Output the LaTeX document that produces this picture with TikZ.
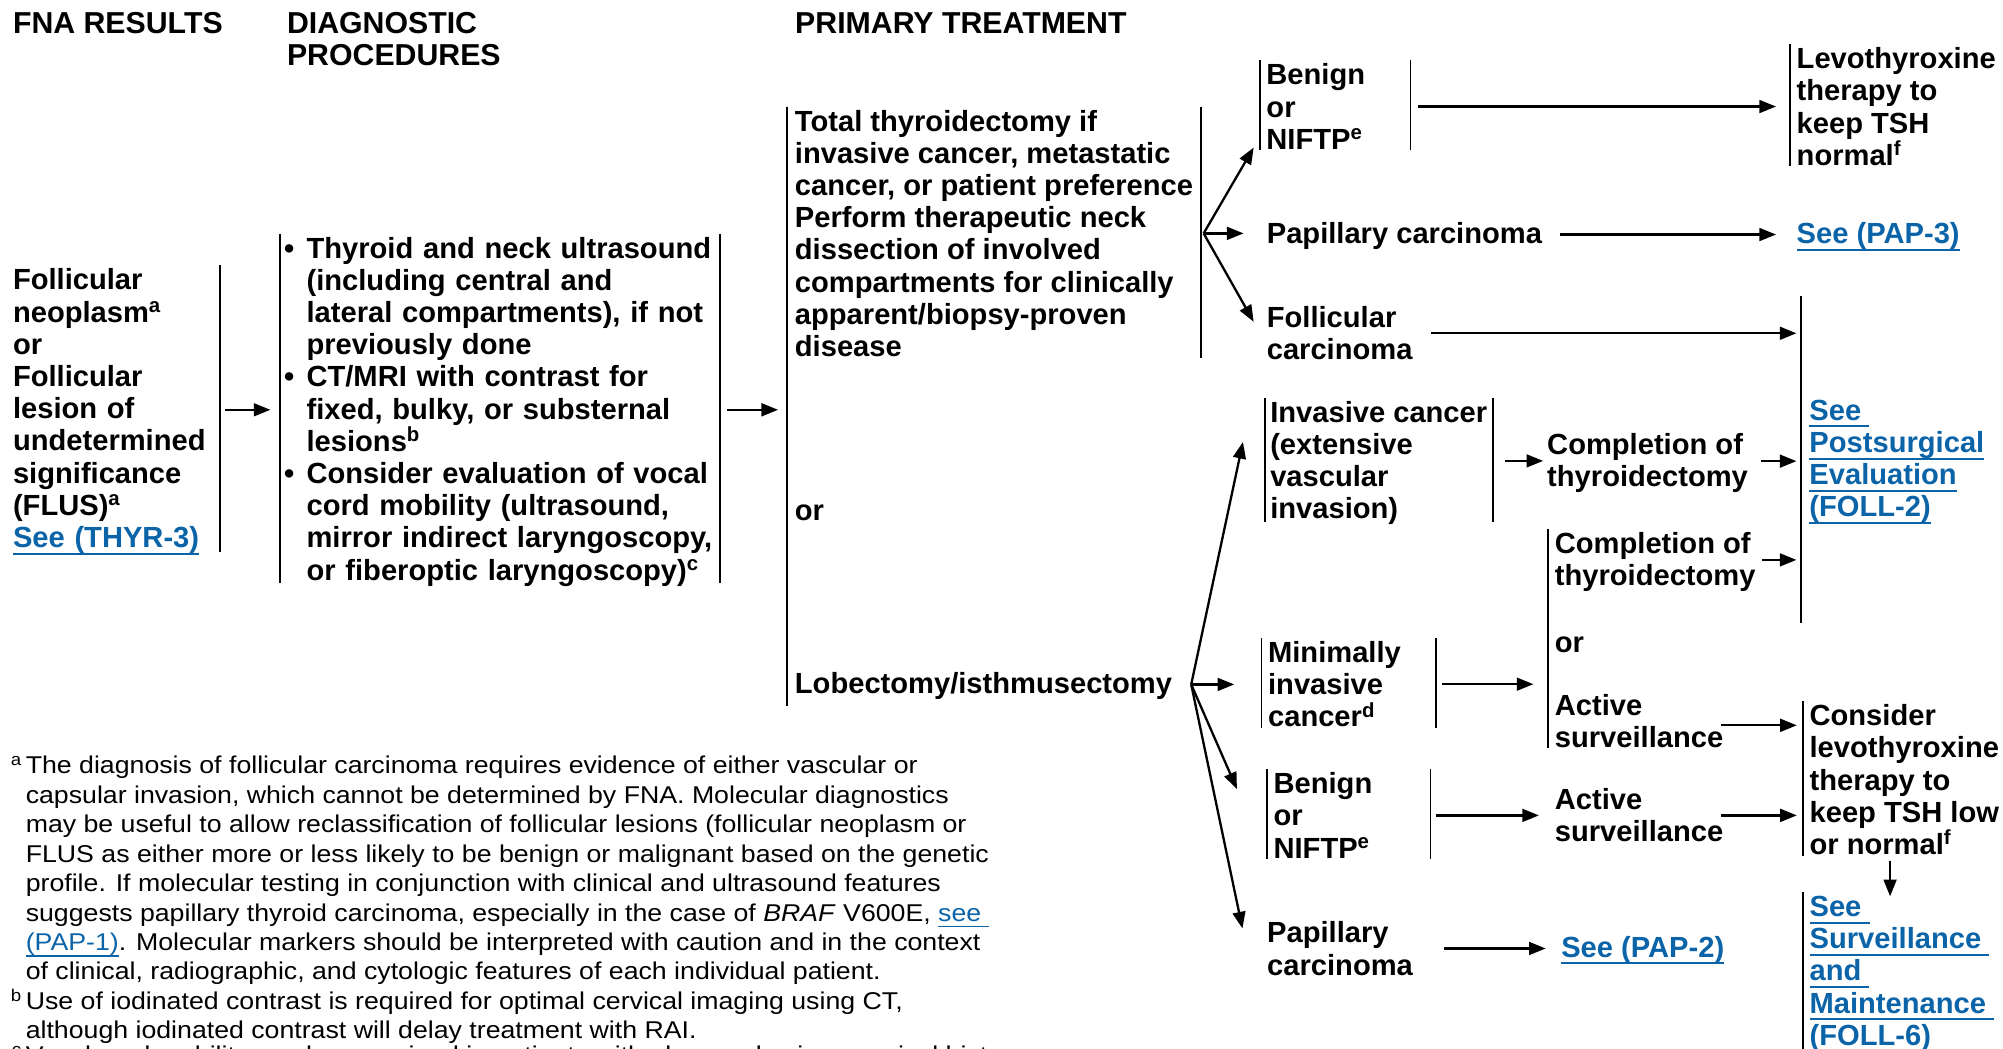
\documentclass[tikz,border=0pt]{standalone}
\usepackage{fontspec}
\setmainfont{Liberation Sans}
\newfontfamily\notefont[FakeStretch=1.1]{Liberation Sans}
\usepackage{xcolor}
\usetikzlibrary{arrows.meta,calc}
\definecolor{linkblue}{HTML}{0B64A8}
\newsavebox\lnkbox
\newcommand\lnk[1]{\leavevmode{\color{linkblue}\sbox\lnkbox{#1}\rlap{\rule[-0.25em]{\wd\lnkbox}{0.065em}}\usebox\lnkbox}}
\newcommand\bul{\makebox[17.5pt][l]{\textbullet}}
\newcommand\ind{\hspace*{17.5pt}}
\newcommand\tstrut{\rule[-3.1pt]{0pt}{19.5pt}}

\begin{document}
\begin{tikzpicture}[x=1pt,y=-1pt,
    head/.style={font=\bfseries\fontsize{23.7}{25.2}\selectfont,align=left,anchor=west,inner xsep=5pt,inner ysep=0pt},
    txt/.style={head,font=\bfseries\fontsize{22.8}{25.2}\selectfont,yshift=-2.5pt},
    note/.style={font=\notefont\fontsize{19}{23.05}\selectfont,align=left,anchor=north west,inner sep=0pt},
    arr/.style={line width=1.8pt,-{Triangle[length=13pt,width=10pt]},transform canvas={yshift=1.5pt}},
    bar/.style={line width=1.4pt,transform canvas={yshift=2.5pt}}]
  \useasboundingbox (0,0) rectangle (1568,821);

  \node[head] (hfna) at (5,19.6) {\tstrut FNA RESULTS\tstrut};
  \node[head] (hdiag) at (219.5,32.2) {\tstrut DIAGNOSTIC\\PROCEDURES\tstrut};
  \node[head] (hprim) at (617.3,19.6) {\tstrut PRIMARY TREATMENT\tstrut};

  \node[txt,text width=156.7pt] (fna) at (5,319.8) {\tstrut Follicular\\neoplasm\textsuperscript{a}\\or\\Follicular\\lesion of\\undetermined\\significance\\(FLUS)\textsuperscript{a}\\\lnk{See (THYR-3)}\tstrut};
  \node[txt,inner xsep=3pt,text width=338pt] (diag) at (219.3,319.8) {\tstrut\bul Thyroid and neck ultrasound\\
    \ind(including central and\\
    \ind lateral compartments), if not\\
    \ind previously done\\
    \bul CT/MRI with contrast for\\
    \ind fixed, bulky, or substernal\\
    \ind lesions\textsuperscript{b}\\
    \bul Consider evaluation of vocal\\
    \ind cord mobility (ultrasound,\\
    \ind mirror indirect laryngoscopy,\\
    \ind or fiberoptic laryngoscopy)\textsuperscript{c}\tstrut};
  \node[txt,inner xsep=6pt] (total) at (616.1,181.7) {\tstrut Total thyroidectomy if\\invasive cancer, metastatic\\cancer, or patient preference\\Perform therapeutic neck\\dissection of involved\\compartments for clinically\\apparent/biopsy-proven\\disease\tstrut};
  \node[txt,inner xsep=6pt] (orA) at (616.1,398.3) {\tstrut or\tstrut};
  \node[txt,inner xsep=6pt] (lob) at (616.1,534.8) {\tstrut Lobectomy/isthmusectomy\tstrut};

  \node[txt,text width=107.6pt] (benA) at (986.2,82.4) {\tstrut Benign\\or\\NIFTP\textsuperscript{e}\tstrut};
  \node[txt,inner xsep=5.2pt] (levo) at (1401.1,82.4) {\tstrut Levothyroxine\\therapy to\\keep TSH\\normal\textsuperscript{f}\tstrut};
  \node[txt] (papA) at (986.5,182.6) {\tstrut Papillary carcinoma\tstrut};
  \node[txt,inner xsep=5.2pt] (seeA) at (1401.1,182.6) {\tstrut\lnk{See (PAP-3)}\tstrut};
  \node[txt] (foll) at (986.5,259.9) {\tstrut Follicular\\carcinoma\tstrut};
  \node[txt,inner xsep=6.4pt] (post) at (1409.9,358.8) {\tstrut\lnk{See\ }\\\lnk{Postsurgical}\\\lnk{Evaluation}\\\lnk{(FOLL-2)}\tstrut};

  \node[txt,inner xsep=4pt] (inv) at (990.2,359.8) {\tstrut Invasive cancer\\(extensive\\vascular\\invasion)\tstrut};
  \node[txt] (compA) at (1206,360) {\tstrut Completion of\\thyroidectomy\tstrut};
  \node[txt] (compB) at (1212,437.3) {\tstrut Completion of\\thyroidectomy\tstrut};
  \node[txt] (orB) at (1212,501.7) {\tstrut or\tstrut};
  \node[txt] (actA) at (1212,563.3) {\tstrut Active\\surveillance\tstrut};
  \node[txt,text width=126.3pt] (mini) at (987.5,534.6) {\tstrut Minimally\\invasive\\cancer\textsuperscript{d}\tstrut};
  \node[txt,text width=117.6pt] (benB) at (991.8,637.3) {\tstrut Benign\\or\\NIFTP\textsuperscript{e}\tstrut};
  \node[txt] (actB) at (1212,637.3) {\tstrut Active\\surveillance\tstrut};
  \node[txt] (cons) at (1411.4,609.3) {\tstrut Consider\\levothyroxine\\therapy to\\keep TSH low\\or normal\textsuperscript{f}\tstrut};
  \node[txt] (surv) at (1411.4,760) {\tstrut\lnk{See\ }\\\lnk{Surveillance\ }\\\lnk{and\ }\\\lnk{Maintenance\ }\\\lnk{(FOLL-6)}\tstrut};
  \node[txt] (papB) at (986.8,741.5) {\tstrut Papillary\\carcinoma\tstrut};
  \node[txt] (seeB) at (1217,741.3) {\tstrut\lnk{See (PAP-2)}\tstrut};

  \node[note] (fn) at (20,589.4) {\llap{\textsuperscript{a}\hspace{3pt}}\strut The diagnosis of follicular carcinoma requires evidence of either vascular or\\
    capsular invasion, which cannot be determined by FNA. Molecular diagnostics\\
    may be useful to allow reclassification of follicular lesions (follicular neoplasm or\\
    FLUS as either more or less likely to be benign or malignant based on the genetic\\
    profile. If molecular testing in conjunction with clinical and ultrasound features\\
    suggests papillary thyroid carcinoma, especially in the case of \textit{BRAF} V600E, \lnk{see\ }\\
    \lnk{(PAP-1)}. Molecular markers should be interpreted with caution and in the context\\
    of clinical, radiographic, and cytologic features of each individual patient.\\
    \llap{\textsuperscript{b}\hspace{3pt}}Use of iodinated contrast is required for optimal cervical imaging using CT,\\
    although iodinated contrast will delay treatment with RAI.\\[-4pt]
    \llap{\textsuperscript{c}\hspace{3pt}}Vocal cord mobility can be examined in patients with abnormal voice, surgical history};

  \draw[bar] (fna.north east) -- (fna.south east);
  \draw[bar] (diag.north west) -- (diag.south west) (diag.north east) -- (diag.south east);
  \draw[bar] (total.north west) -- ([yshift=-7pt]lob.south west);
  \draw[bar] (total.north east) -- (total.south east);
  \draw[bar] (benA.north west) -- (benA.south west) (benA.north east) -- (benA.south east);
  \draw[bar] (levo.north west) -- (levo.south west);
  \draw[bar] ([yshift=77.8pt]post.north west) -- ([yshift=-79.5pt]post.south west);
  \draw[bar] (inv.north west) -- (inv.south west) (inv.north east) -- (inv.south east);
  \draw[bar] (compB.north west) -- (actA.south west);
  \draw[bar] (mini.north west) -- (mini.south west) (mini.north east) -- (mini.south east);
  \draw[bar] (benB.north west) -- (benB.south west) (benB.north east) -- (benB.south east);
  \draw[bar] (cons.north west) -- (cons.south west);
  \draw[bar] (surv.north west) -- ([yshift=-20pt]surv.south west);

  \coordinate (tfan) at ([xshift=2pt]total.east);
  \coordinate (lfan) at ([xshift=8.8pt]lob.east);

  \draw[arr,shorten <=4pt,shorten >=7.6pt] (fna.east) -- (fna.east -| diag.west);
  \draw[arr,shorten <=5.7pt,shorten >=7pt] (diag.east) -- (diag.east -| total.west);
  \draw[arr] (tfan) -- ([xshift=-4.8pt,yshift=3.1pt]benA.south west);
  \draw[arr,shorten >=13pt] (tfan) -- (tfan -| papA.west);
  \draw[arr] (tfan) -- ([xshift=-5.1pt,yshift=-13.6pt]foll.north west);
  \draw[arr,shorten <=6pt,shorten >=10.8pt] (benA.east) -- (benA.east -| levo.west);
  \draw[arr,shorten <=8.6pt,shorten >=10.8pt] (papA.east) -- (papA.east -| seeA.west);
  \draw[arr,shorten <=9.2pt,shorten >=3.6pt] (foll.east) -- (foll.east -| post.west);
  \draw[arr] (lfan) -- ([xshift=-17.2pt,yshift=14.8pt]inv.west);
  \draw[arr,shorten >=21.3pt] (lfan) -- (lfan -| mini.west);
  \draw[arr] (lfan) -- ([xshift=-23.5pt,yshift=-14.6pt]benB.north west);
  \draw[arr] (lfan) -- ([xshift=-14.2pt,yshift=15.7pt]papB.west);
  \draw[arr,shorten <=10pt,shorten >=-2pt] (inv.east) -- (inv.east -| compA.west);
  \draw[arr,shorten <=5pt,shorten >=3.6pt] (compA.east) -- (compA.east -| post.west);
  \draw[arr,shorten >=3.6pt] (compB.east) -- (compB.east -| post.west);
  \draw[arr,shorten <=5pt,shorten >=11.6pt] (mini.east) -- (mini.east -| actA.west);
  \draw[arr,shorten <=-7pt,shorten >=4.8pt] ([yshift=-3.5pt]actA.east) -- ([yshift=-3.5pt]actA.east -| cons.west);
  \draw[arr,shorten <=4.3pt,shorten >=7.3pt] (benB.east) -- (benB.east -| actB.west);
  \draw[arr,shorten <=-7pt,shorten >=4.8pt] (actB.east) -- (actB.east -| cons.west);
  \draw[arr,shorten <=3.4pt,shorten >=-2.3pt] ([xshift=68.2pt]cons.south west) -- ([xshift=68.2pt]cons.south west |- surv.north);
  \draw[arr,shorten <=19.2pt,shorten >=7pt] (papB.east) -- (papB.east -| seeB.west);
\end{tikzpicture}
\end{document}
